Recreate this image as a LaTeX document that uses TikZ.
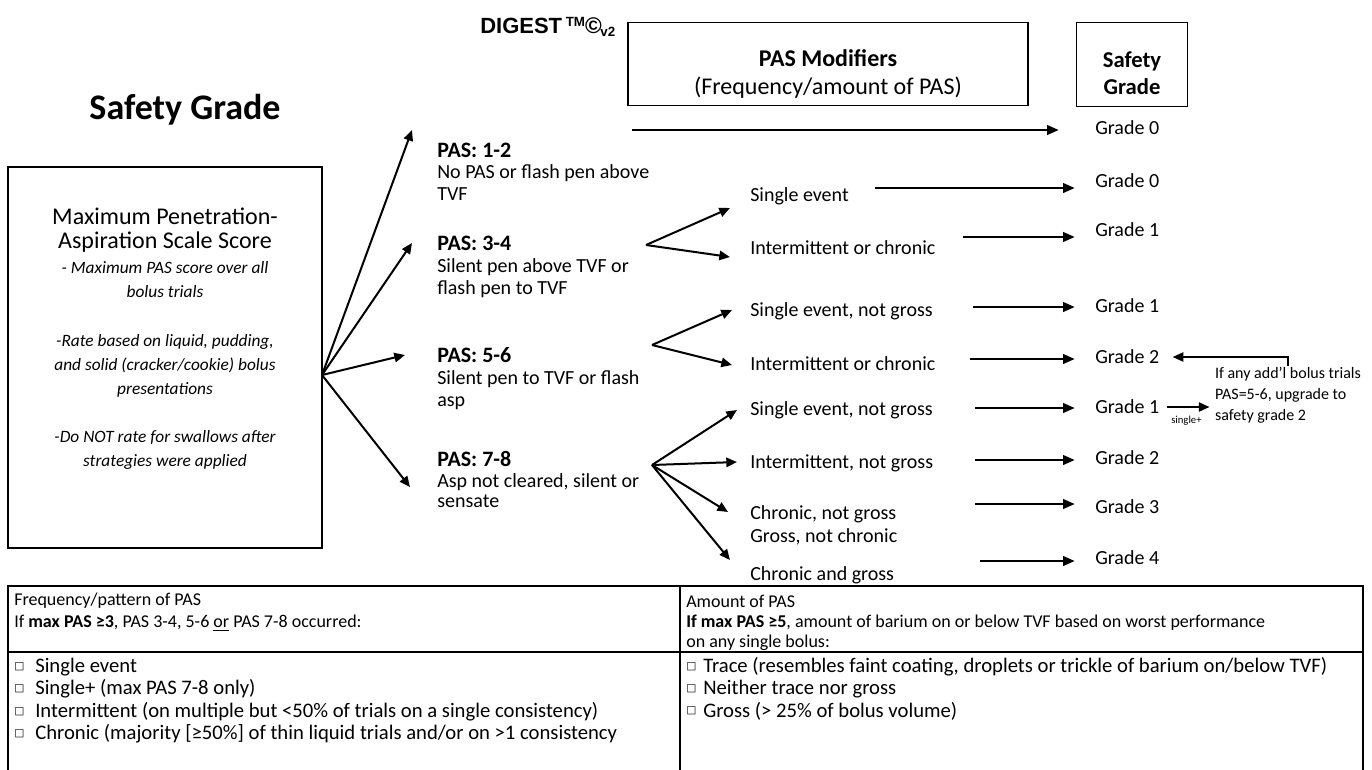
\documentclass[tikz,border=0pt]{standalone}
\usepackage{fontspec}
\setmainfont{Carlito}
\newfontfamily\arialfont{Liberation Sans}
\newfontfamily\symfont{DejaVu Sans}
\usetikzlibrary{arrows.meta}
\tikzstyle{L} = [inner sep=0pt,anchor=west,align=left,font=\fontsize{15}{16.5}\selectfont]
\tikzstyle{H} = [L,font=\fontsize{16.5}{18}\selectfont\bfseries]
\tikzstyle{G} = [L]
\tikzstyle{I} = [inner sep=0pt,align=center,font=\fontsize{13}{18}\selectfont\itshape]
\tikzstyle{Th} = [inner sep=0pt,anchor=west,font=\fontsize{13.5}{15}\selectfont]
\tikzstyle{Tb} = [inner sep=0pt,anchor=west,font=\fontsize{15.5}{16}\selectfont]
\tikzstyle{Bx} = [draw,line width=1pt,inner sep=0pt]
\tikzstyle{Ar} = [line width=1.5pt,-{Triangle[length=8pt,width=7pt]}]
\tikzstyle{Hr} = [line width=2.2pt,-{Triangle[length=9pt,width=7pt]}]
\newcommand{\cbox}{{\symfont\fontsize{8}{8}\selectfont □}}

\begin{document}
\begin{tikzpicture}[x=0.75pt,y=-0.75pt]
	\useasboundingbox (0,0) rectangle (1372,769);
	%%%%%%%%%%%%%%% header
	\node [font=\fontsize{27}{32}\selectfont\bfseries] (title) at (185,110) {Safety Grade};
	\node [inner sep=0pt,anchor=west,font=\arialfont\bfseries\fontsize{16.5}{20}\selectfont] (dig) at (480,27) {DIGEST\,\raisebox{0.55ex}{\fontsize{10}{10}\selectfont TM}{\fontsize{17}{17}\selectfont ©}\kern-1pt\raisebox{-0.3ex}{\fontsize{10}{10}\selectfont v2}};
	\node [Bx,minimum width=300pt,minimum height=62pt] (pmod) at (828,64) {};
	\node [align=center,font=\fontsize{18}{21}\selectfont] (pmodt) at (828,74) {\textbf{PAS Modifiers}\\(Frequency/amount of PAS)};
	\node [Bx,minimum width=83pt,minimum height=63pt] (sgbox) at (1132,64.5) {};
	\node [align=center,font=\fontsize{17}{20}\selectfont\bfseries] (sgt) at (1132,73) {Safety\\Grade};
	%%%%%%%%%%%%%%% left box
	\node [Bx,minimum width=235.5pt,minimum height=285.75pt] (mpas) at (165,357.5) {};
	\node [inner sep=0pt,align=center,font=\fontsize{18}{18}\selectfont] (mp1) at (165,230) {Maximum Penetration-\\Aspiration Scale Score};
	\node [I] (mp2) at (165,280) {- Maximum PAS score over all\\bolus trials};
	\node [I] (mp3) at (165,366) {-Rate based on liquid, pudding,\\and solid (cracker/cookie) bolus\\presentations};
	\node [I] (mp4) at (165,450) {-Do NOT rate for swallows after\\strategies were applied};
	%%%%%%%%%%%%%%% PAS levels
	\node [H] (p12) at (437,150) {PAS: 1-2};
	\node [L] (p12d) at (437,183) {No PAS or flash pen above\\TVF};
	\node [H] (p34) at (437,243) {PAS: 3-4};
	\node [L] (p34d) at (437,278) {Silent pen above TVF or\\flash pen to TVF};
	\node [H] (p56) at (437,355) {PAS: 5-6};
	\node [L] (p56d) at (437,390) {Silent pen to TVF or flash\\asp};
	\node [H] (p78) at (437,459) {PAS: 7-8};
	\node [L,font=\fontsize{15}{15}\selectfont] (p78d) at (437,491) {Asp not cleared, silent or\\sensate};
	\coordinate (src) at (322,375);
	\coordinate (t12) at (412,130);
	\coordinate (t34) at (412,243);
	\coordinate (t56) at (405,355);
	\coordinate (t78) at (410,487);
	\draw [Ar] (src) -- (t12);
	\draw [Ar] (src) -- (t34);
	\draw [Ar] (src) -- (t56);
	\draw [Ar] (src) -- (t78);
	%%%%%%%%%%%%%%% modifiers
	\node [L] (se1) at (750,196) {Single event};
	\node [L] (ic1) at (750,248) {Intermittent or chronic};
	\node [L] (se2) at (750,311) {Single event, not gross};
	\node [L] (ic2) at (750,364) {Intermittent or chronic};
	\node [L] (se3) at (750,410) {Single event, not gross};
	\node [L] (in3) at (750,463) {Intermittent, not gross};
	\node [L] (cn3) at (750,514) {Chronic, not gross};
	\node [L] (gn3) at (750,537) {Gross, not chronic};
	\node [L] (cg3) at (750,575) {Chronic and gross};
	\coordinate (b34) at (646,245);
	\coordinate (b56) at (652,345);
	\coordinate (b78) at (652,465);
	\draw [Ar] (b34) -- (730,208);
	\draw [Ar] (b34) -- (730,257);
	\draw [Ar] (b56) -- (732,310);
	\draw [Ar] (b56) -- (732,365);
	\draw [Ar] (b78) -- (737,410);
	\draw [Ar] (b78) -- (737,462);
	\draw [Ar] (b78) -- (728,512);
	\draw [Ar] (b78) -- (730,560);
	%%%%%%%%%%%%%%% grades
	\node [G] (g1) at (1095,128) {Grade 0};
	\node [G] (g2) at (1095,181) {Grade 0};
	\node [G] (g3) at (1095,230) {Grade 1};
	\node [G] (g4) at (1095,306) {Grade 1};
	\node [G] (g5) at (1095,357) {Grade 2};
	\node [G] (g6) at (1095,407) {Grade 1};
	\node [G] (g7) at (1095,458) {Grade 2};
	\node [G] (g8) at (1095,507) {Grade 3};
	\node [G] (g9) at (1095,558) {Grade 4};
	\coordinate (s1) at (632,130);
	\coordinate (s2) at (875,188);
	\coordinate (s3) at (963,237);
	\coordinate (s4) at (973,307);
	\coordinate (s5) at (970,359);
	\coordinate (s6) at (975,408);
	\coordinate (s7) at (975,460);
	\coordinate (s8) at (975,504);
	\coordinate (s9) at (980,561);
	\draw [Hr,shorten >=27pt] (s1) -- (s1 -| g1.west);
	\draw [Hr,shorten >=15pt] (s2) -- (s2 -| g2.west);
	\draw [Hr,shorten >=15pt] (s3) -- (s3 -| g3.west);
	\draw [Hr,shorten >=15pt] (s4) -- (s4 -| g4.west);
	\draw [Hr,shorten >=15pt] (s5) -- (s5 -| g5.west);
	\draw [Hr,shorten >=15pt] (s6) -- (s6 -| g6.west);
	\draw [Hr,shorten >=15pt] (s7) -- (s7 -| g7.west);
	\draw [Hr,shorten >=15pt] (s8) -- (s8 -| g8.west);
	\draw [Hr,shorten >=15pt] (s9) -- (s9 -| g9.west);
	%%%%%%%%%%%%%%% upgrade note
	\node [inner sep=1pt,anchor=north,align=left,font=\fontsize{12}{15.5}\selectfont] (addl) at (1288,366) {If any add’l bolus trials\\PAS=5-6, upgrade to\\safety grade 2};
	\draw [line width=1.2pt,-{Triangle[length=8pt,width=7pt]},shorten >=10pt] (addl.north) |- (g5.east);
	\draw [line width=1.2pt,-{Triangle[length=8pt,width=7pt]},shorten <=6pt,shorten >=3pt] (g6.east) -- (g6.east -| addl.west) node [midway,below=3pt,font=\fontsize{8}{9}\selectfont] (sgl) {single+};
	%%%%%%%%%%%%%%% table
	\draw [line width=1pt] (8,790) -- (8,586) -- (1363,586) -- (1363,790);
	\draw [line width=1pt] (8,652) -- (1363,652);
	\draw [line width=1pt] (680,586) -- (680,790);
	\node [Th] (fq1) at (14,601) {Frequency/pattern of PAS};
	\node [Th] (fq2) at (14,623) {If \textbf{max PAS ≥3}, PAS 3-4, 5-6 \underline{or} PAS 7-8 occurred:};
	\node [Th] (am1) at (686,601) {Amount of PAS};
	\node [Th] (am2) at (686,623) {\textbf{If max PAS ≥5}, amount of barium on or below TVF based on worst performance};
	\node [Th] (am3) at (686,643) {on any single bolus:};
	%----
	\node [Tb] (fc1) at (14,667) {\cbox};
	\node [Tb] (fc2) at (14,689) {\cbox};
	\node [Tb] (fc3) at (14,712) {\cbox};
	\node [Tb] (fc4) at (14,734) {\cbox};
	\node [Tb] (ft1) at (35,667) {Single event};
	\node [Tb] (ft2) at (35,689) {Single+ (max PAS 7-8 only)};
	\node [Tb] (ft3) at (35,712) {Intermittent (on multiple but <50\% of trials on a single consistency)};
	\node [Tb] (ft4) at (35,734) {Chronic (majority [≥50\%] of thin liquid trials and/or on >1 consistency};
	\node [Tb] (ac1) at (686,667) {\cbox};
	\node [Tb] (ac2) at (686,689) {\cbox};
	\node [Tb] (ac3) at (686,711) {\cbox};
	\node [Tb] (at1) at (703,667) {Trace (resembles faint coating, droplets or trickle of barium on/below TVF)};
	\node [Tb] (at2) at (703,689) {Neither trace nor gross};
	\node [Tb] (at3) at (703,711) {Gross (> 25\% of bolus volume)};
\end{tikzpicture}
\end{document}
